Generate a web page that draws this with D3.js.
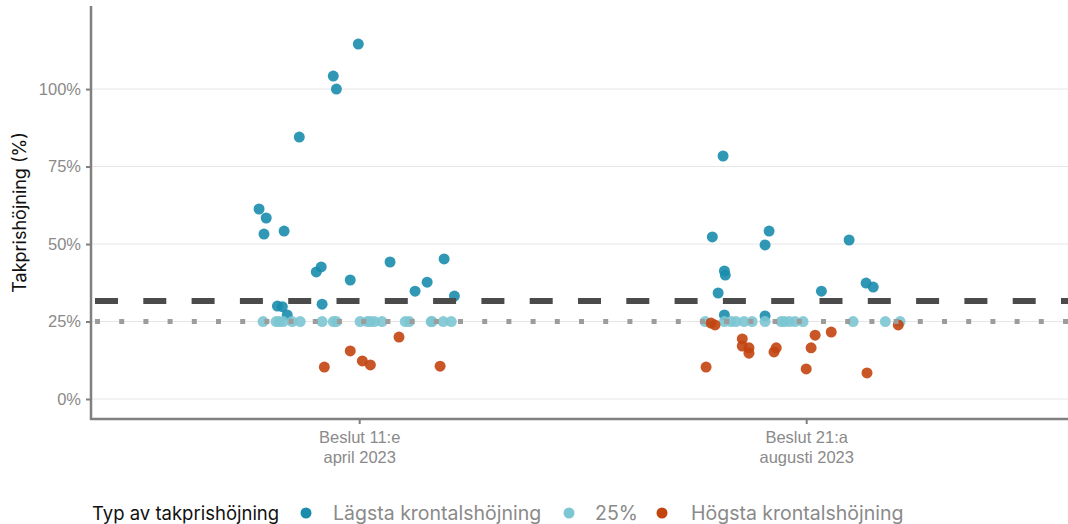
<!DOCTYPE html>
<html>
<head>
<meta charset="utf-8">
<script src="https://cdn.jsdelivr.net/npm/d3@7"></script>
<style>
  body { margin: 0; background: #fff; }
  svg { font-family: Inter, "Noto Sans", sans-serif; }
</style>
</head>
<body>
<svg id="chart" width="1068" height="524"></svg>
<script>
// categories (x positions 1 and 2)
const categories = [["Beslut 11:e", "april 2023"], ["Beslut 21:a", "augusti 2023"]];
const yTicks = [0, 25, 50, 75, 100];
const medianLine = 31.6;   // dashed
const refLine = 25;        // dotted

// Lägsta krontalshöjning: jittered x, value (%)
const lagstaX = [0.776, 0.787, 0.792, 0.832, 0.866, 0.942, 0.949, 0.998, 0.817, 0.828, 0.839, 0.904, 0.915, 0.917, 0.980, 1.069, 1.125, 1.152, 1.190, 1.213,
                 1.814, 1.790, 1.917, 1.908, 2.096, 1.817, 1.819, 2.134, 2.150, 1.803, 2.034, 1.817, 1.908];
const lagstaY = [61.3, 53.2, 58.4, 54.2, 84.5, 104.2, 100, 114.5, 30.0, 29.8, 27.1, 41.0, 42.6, 30.6, 38.4, 44.2, 34.8, 37.7, 45.2, 33.2,
                 78.4, 52.3, 54.2, 49.7, 51.3, 41.3, 40.0, 37.4, 36.1, 34.2, 34.8, 27.1, 26.8];

// 25%
const fastX = [0.785, 0.814, 0.821, 0.830, 0.850, 0.868, 0.917, 0.942, 0.949, 1.002, 1.018, 1.025, 1.034, 1.051, 1.103, 1.112, 1.161, 1.163, 1.188, 1.206,
               1.774, 1.817, 1.832, 1.843, 1.861, 1.879, 1.908, 1.944, 1.951, 1.962, 1.975, 1.993, 2.105, 2.177, 2.210];
const fastY = fastX.map(() => 25);

// Högsta krontalshöjning
const hogstaX = [0.922, 0.980, 1.007, 1.025, 1.089, 1.181,
                 1.787, 1.796, 1.776, 1.857, 1.857, 1.872, 1.872, 1.928, 1.933, 2.000, 2.011, 2.020, 2.056, 2.136, 2.206];
const hogstaY = [10.3, 15.5, 12.3, 11.0, 20.0, 10.6,
                 24.5, 23.9, 10.3, 19.4, 17.1, 16.5, 14.8, 15.2, 16.5, 9.7, 16.5, 20.6, 21.6, 8.4, 23.9];

const seriesNames = ["Lägsta krontalshöjning", "25%", "Högsta krontalshöjning"];
const seriesColors = ["#1a8dad", "#7cc7d3", "#c2440f"];

const svg = d3.select("#chart");
const plotLeft = 91, plotRight = 1068, plotBottom = 419, plotTop = 6;

const x = d3.scaleLinear().domain([0.4, 2.6]).range([plotLeft, plotLeft + 2.2 * 447]);
const y = d3.scaleLinear().domain([-6.45, 126.8]).range([plotBottom, plotTop]);

// grid
svg.append("g").selectAll("line").data(yTicks).join("line")
  .attr("x1", plotLeft).attr("x2", plotRight)
  .attr("y1", d => y(d)).attr("y2", d => y(d))
  .attr("stroke", "#e6e6e6").attr("stroke-width", 1);

// points
const series = [[lagstaX, lagstaY], [fastX, fastY], [hogstaX, hogstaY]];
series.forEach(([xs, ys], i) => {
  svg.append("g").selectAll("circle").data(xs.map((d, j) => [d, ys[j]])).join("circle")
    .attr("cx", d => x(d[0])).attr("cy", d => y(d[1]))
    .attr("r", 5.5)
    .attr("fill", seriesColors[i]).attr("fill-opacity", 0.9);
});

// reference lines
svg.append("line")
  .attr("x1", plotLeft).attr("x2", plotRight)
  .attr("y1", y(medianLine)).attr("y2", y(medianLine))
  .attr("stroke", "#4b4b4b").attr("stroke-width", 6)
  .attr("stroke-dasharray", "23,25.3").attr("stroke-dashoffset", -4);
svg.append("line")
  .attr("x1", plotLeft).attr("x2", plotRight)
  .attr("y1", y(refLine)).attr("y2", y(refLine))
  .attr("stroke", "#9c9c9c").attr("stroke-width", 5)
  .attr("stroke-dasharray", "5,19.2").attr("stroke-dashoffset", -4);

// axes
const yAxis = svg.append("g").attr("transform", `translate(${plotLeft},0)`)
  .call(d3.axisLeft(y).tickValues(yTicks).tickFormat(d => d + "%").tickSize(5).tickPadding(5));
yAxis.select(".domain").remove();
yAxis.selectAll(".tick line").attr("stroke", "#7f7f7f").attr("stroke-width", 2);
yAxis.selectAll(".tick text").attr("fill", "#8a8a8a").attr("font-size", 16.5);

const xAxis = svg.append("g").attr("transform", `translate(0,${plotBottom})`)
  .call(d3.axisBottom(x).tickValues([1, 2]).tickFormat("").tickSize(5));
xAxis.select(".domain").remove();
xAxis.selectAll(".tick line").attr("stroke", "#7f7f7f").attr("stroke-width", 2);
xAxis.selectAll(".tick").append("text")
  .attr("fill", "#8a8a8a").attr("font-size", 16.5).attr("text-anchor", "middle")
  .selectAll("tspan").data((d, i) => categories[i]).join("tspan")
  .attr("x", 0).attr("y", (d, i) => 24 + i * 20).text(d => d);

// axis lines
svg.append("line").attr("x1", plotLeft).attr("x2", plotLeft)
  .attr("y1", plotTop).attr("y2", plotBottom + 1).attr("stroke", "#808080").attr("stroke-width", 2.5);
svg.append("line").attr("x1", plotLeft - 1).attr("x2", plotRight)
  .attr("y1", plotBottom).attr("y2", plotBottom).attr("stroke", "#808080").attr("stroke-width", 2.5);

// y title
svg.append("text")
  .attr("transform", `translate(26,${(plotTop + plotBottom) / 2}) rotate(-90)`)
  .attr("text-anchor", "middle").attr("font-size", 18).attr("fill", "#111")
  .text("Takprishöjning (%)");

// legend
const leg = svg.append("g").attr("transform", "translate(0,513)");
leg.append("text").attr("x", 92).attr("y", 6.5).attr("font-size", 18.5).attr("fill", "#111")
  .text("Typ av takprishöjning");
const legX = [[306, 333], [569, 595], [662, 691]];
seriesNames.forEach((n, i) => {
  leg.append("circle").attr("cx", legX[i][0]).attr("cy", 0).attr("r", 5.5).attr("fill", seriesColors[i]);
  leg.append("text").attr("x", legX[i][1]).attr("y", 6.5).attr("font-size", 19.5).attr("fill", "#8a8a8a").text(n);
});
</script>
</body>
</html>
